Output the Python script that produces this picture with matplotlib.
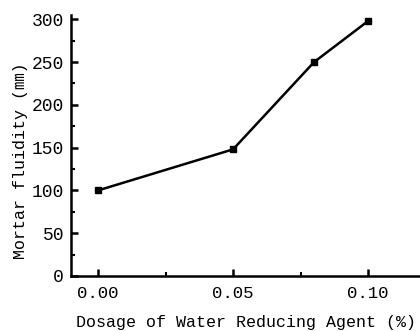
import numpy as np
import matplotlib
matplotlib.use("Agg")
import matplotlib.pyplot as plt
from matplotlib.ticker import MultipleLocator

plt.rcParams['font.family'] = ['Liberation Mono', 'Noto Sans CJK SC']

dosage = [0.00, 0.05, 0.08, 0.10]
fluidity = [100, 148, 250, 298]
x_ticks = [0.00, 0.05, 0.10]
x_tick_labels = ["0.00", "0.05", "0.10"]
y_ticks = [0, 50, 100, 150, 200, 250, 300]

fig = plt.figure(figsize=(4.2, 3.31), dpi=100)
ax = fig.add_axes([71 / 420, 55 / 331, 349 / 420, 261 / 331])

ax.plot(dosage, fluidity, color="black", lw=1.8, marker="s", ms=4)

ax.set_xlim(-0.01, 0.1192)
ax.set_ylim(0, 305)
ax.set_xticks(x_ticks)
ax.set_xticklabels(x_tick_labels)
ax.set_yticks(y_ticks)
ax.xaxis.set_minor_locator(MultipleLocator(0.025))
ax.yaxis.set_minor_locator(MultipleLocator(25))

for side in ["top", "right"]:
    ax.spines[side].set_visible(False)
for side in ["left", "bottom"]:
    ax.spines[side].set_linewidth(1.8)

ax.tick_params(which="major", direction="in", length=5, width=1.8)
ax.tick_params(which="minor", direction="in", length=3, width=1.5)
ax.tick_params(axis="x", pad=7, labelsize=12.5)
ax.tick_params(axis="y", pad=5, labelsize=13)

ax.set_xlabel("Dosage of Water Reducing Agent (%)", fontsize=12, labelpad=10)
ax.set_ylabel("Mortar fluidity (㎜)", fontsize=12)
ax.yaxis.set_label_coords(-0.124, 0.44)

fig.savefig("out.png", dpi=100)
